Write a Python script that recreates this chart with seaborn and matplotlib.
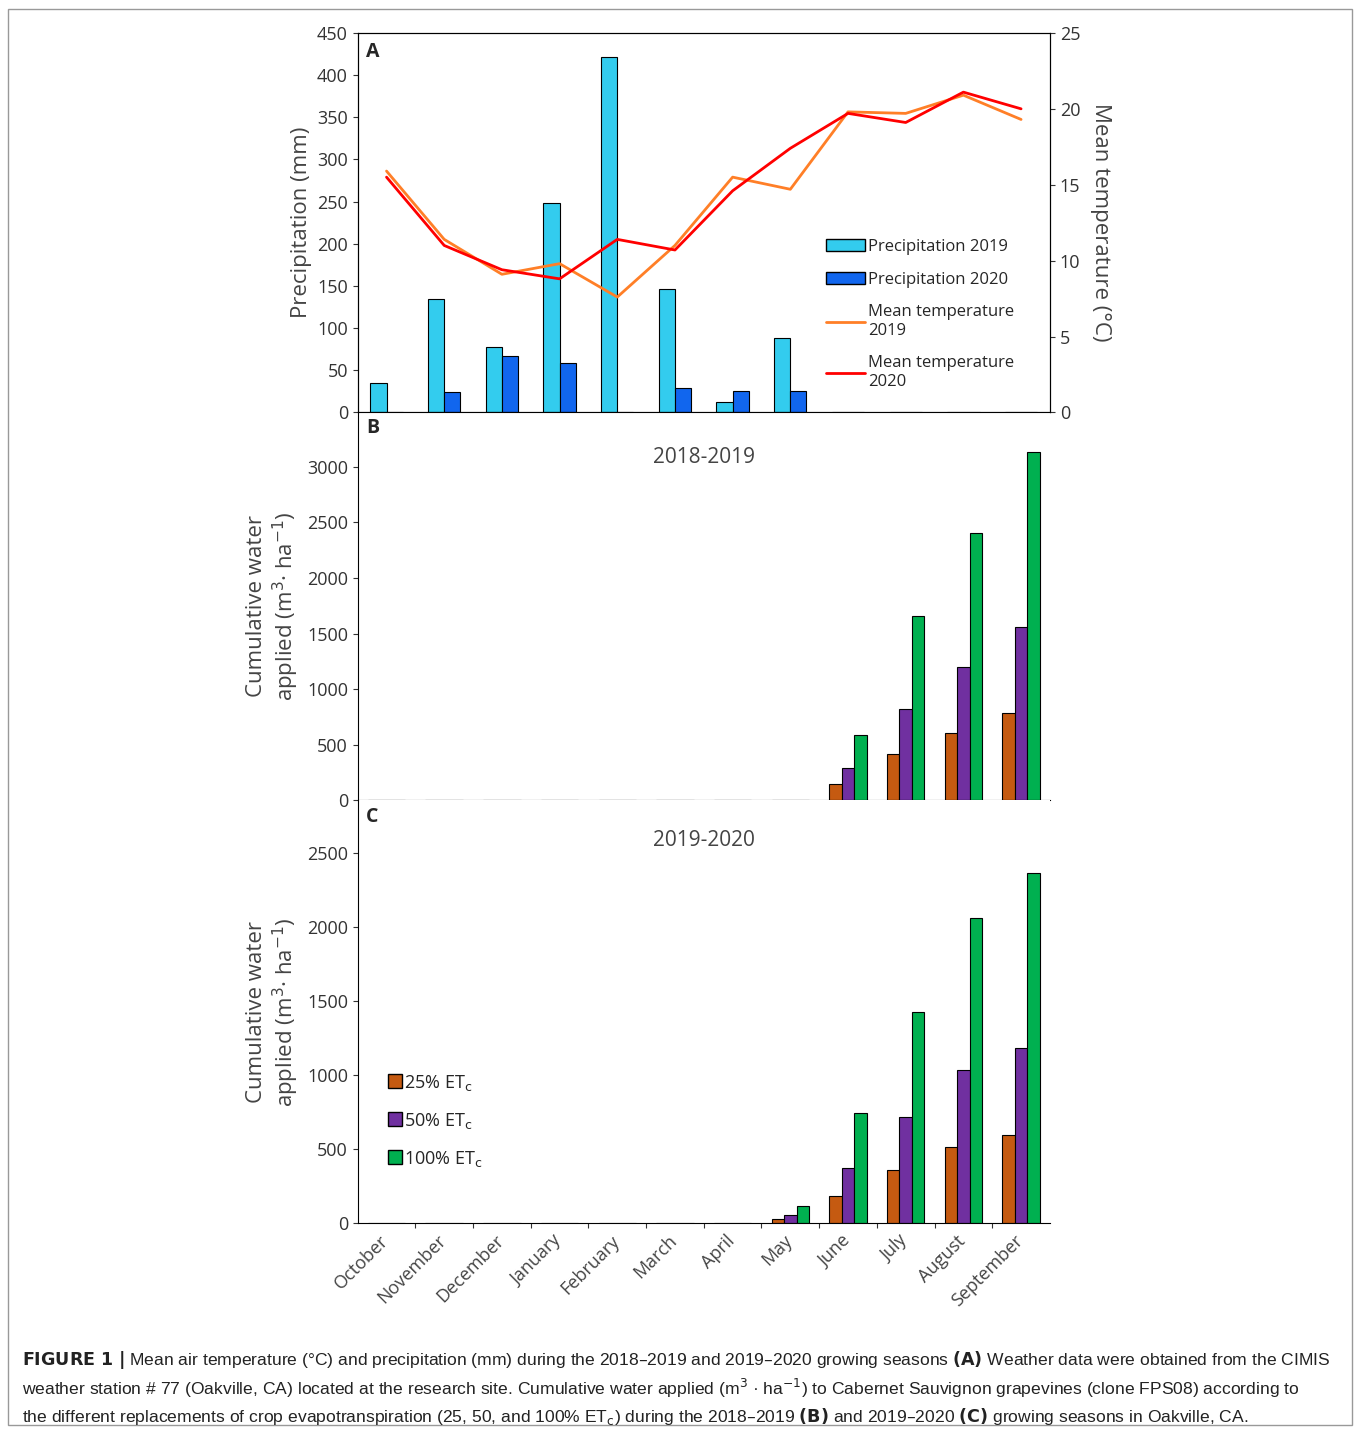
import numpy as np
import pandas as pd
import matplotlib
matplotlib.use("Agg")
import matplotlib.pyplot as plt
import seaborn as sns
from matplotlib.lines import Line2D
from matplotlib.patches import Rectangle

months = ["October", "November", "December", "January", "February", "March",
          "April", "May", "June", "July", "August", "September"]

precip_2019 = [35, 135, 77, 248, 422, 146, 12, 88, 0, 0, 0, 0]
precip_2020 = [0, 24, 67, 59, 1, 29, 25, 25, 0, 0, 1, 1]
temp_2019 = [15.9, 11.4, 9.1, 9.8, 7.6, 11.0, 15.5, 14.7, 19.8, 19.7, 20.9, 19.3]
temp_2020 = [15.5, 11.0, 9.4, 8.8, 11.4, 10.7, 14.6, 17.4, 19.7, 19.1, 21.1, 20.0]

treat = ["25% ET$_\\mathrm{c}$", "50% ET$_\\mathrm{c}$", "100% ET$_\\mathrm{c}$"]
water_1819_25 = [0, 0, 0, 0, 0, 0, 0, 0, 145, 420, 605, 790]
water_1819_50 = [0, 0, 0, 0, 0, 0, 0, 0, 295, 825, 1200, 1560]
water_1819_100 = [0, 0, 0, 0, 0, 0, 0, 0, 585, 1655, 2410, 3130]
water_1920_25 = [0, 0, 0, 0, 0, 0, 0, 25, 185, 355, 515, 595]
water_1920_50 = [0, 0, 0, 0, 0, 0, 0, 55, 370, 715, 1035, 1185]
water_1920_100 = [0, 0, 0, 0, 0, 0, 0, 115, 745, 1430, 2065, 2365]

sns.set_style("ticks")
plt.rcParams["font.family"] = ["Open Sans", "DejaVu Sans"]
plt.rcParams["axes.edgecolor"] = "black"

fig = plt.figure(figsize=(13.6, 14.32), dpi=100)
L, W = 0.263, 0.509
axA = fig.add_axes([L, 0.712, W, 0.265])
axB = fig.add_axes([L, 0.441, W, 0.271])
axC = fig.add_axes([L, 0.146, W, 0.295])

# ---- panel A
dfA = pd.DataFrame({"month": months * 2,
                    "value": precip_2019 + precip_2020,
                    "series": ["Precipitation 2019"] * 12 + ["Precipitation 2020"] * 12})
sns.barplot(data=dfA, x="month", y="value", hue="series", order=months,
            palette=["#33CCEE", "#1166EE"], width=0.56, edgecolor="black",
            linewidth=0.8, saturation=1, ax=axA, legend=False)
axA.set_ylim(0, 450)
axA.set_yticks(range(0, 451, 50))
axA.set_xlim(-0.5, 11.5)
axA.set_ylabel("Precipitation (mm)", fontsize=16, color="#444444")
axA.set_xlabel("")
axA.set_xticks(np.arange(0.5, 11.5, 1))
axA.set_xticklabels([])
axT = axA.twinx()
x = np.arange(12)
axT.plot(x, temp_2019, color="#FF7F27", lw=2)
axT.plot(x, temp_2020, color="#FF0000", lw=2)
axT.set_ylim(0, 25)
axT.set_yticks(range(0, 26, 5))
axT.set_ylabel("Mean temperature (°C)", fontsize=16, color="#444444", rotation=270, labelpad=22)
for a in (axA, axT):
    a.tick_params(labelsize=13, colors="#333333")
axA.text(0.012, 0.975, "A", transform=axA.transAxes, fontsize=14, fontweight="bold", va="top")
hA = [Rectangle((0, 0), 1, 1, fc="#33CCEE", ec="black"),
      Rectangle((0, 0), 1, 1, fc="#1166EE", ec="black"),
      Line2D([], [], color="#FF7F27", lw=2), Line2D([], [], color="#FF0000", lw=2)]
axA.legend(hA, ["Precipitation 2019", "Precipitation 2020", "Mean temperature\n2019",
                "Mean temperature\n2020"], loc="lower right", bbox_to_anchor=(0.97, 0.02),
           frameon=False, fontsize=12, handlelength=2.3, labelspacing=1.0, handletextpad=0.2)

# ---- panels B, C
def water_panel(ax, s25, s50, s100, ymax, ticks, title, letter, ty):
    df = pd.DataFrame({"month": months * 3, "value": s25 + s50 + s100,
                       "treat": [t for t in treat for _ in months]})
    sns.barplot(data=df, x="month", y="value", hue="treat", order=months,
                palette=["#C55A11", "#7030A0", "#00B050"], width=0.65, saturation=1,
                edgecolor="black", linewidth=0.8, ax=ax, legend=False)
    ax.set_xlim(-0.5, 11.5)
    ax.set_ylim(0, ymax)
    ax.set_yticks(ticks)
    ax.set_xticks(np.arange(0.5, 11.5, 1))
    ax.set_xticklabels([])
    ax.set_xlabel("")
    ax.set_ylabel("Cumulative water\napplied (m$^3$· ha$^{-1}$)", fontsize=16, color="#444444")
    ax.tick_params(labelsize=13, colors="#333333")
    ax.text(0.5, ty, title, transform=ax.transAxes, ha="center", va="center",
            fontsize=15, color="#444444")
    ax.text(0.012, 0.985, letter, transform=ax.transAxes, fontsize=14, fontweight="bold", va="top")
    sns.despine(ax=ax, top=True, right=True)

water_panel(axB, water_1819_25, water_1819_50, water_1819_100, 3490,
            range(0, 3001, 500), "2018-2019", "B", 0.885)
water_panel(axC, water_1920_25, water_1920_50, water_1920_100, 2858,
            range(0, 2501, 500), "2019-2020", "C", 0.905)
hC = [Line2D([], [], marker="s", ls="", mfc=c, mec="black", ms=10)
      for c in ["#C55A11", "#7030A0", "#00B050"]]
axC.legend(hC, treat, loc="lower left", bbox_to_anchor=(0.02, 0.09), frameon=False,
           fontsize=13, handletextpad=0.1, labelspacing=1.0, handlelength=0.8)
for i, m in enumerate(months):
    axC.text(i + 0.1, -60, m, rotation=45, ha="right", va="top", fontsize=13, color="#444444")

# frame + caption
fig.add_artist(Rectangle((0.006, 0.005), 0.988, 0.989, transform=fig.transFigure,
                         fill=False, ec="#999999", lw=1))
cap = ("$\\bf{FIGURE\\ 1\\ |}$ Mean air temperature (°C) and precipitation (mm) during the 2018–2019 and 2019–2020 growing seasons $\\bf{(A)}$ Weather data were obtained from the CIMIS\n"
       "weather station # 77 (Oakville, CA) located at the research site. Cumulative water applied (m$^3$ · ha$^{-1}$) to Cabernet Sauvignon grapevines (clone FPS08) according to\n"
       "the different replacements of crop evapotranspiration (25, 50, and 100% ET$_\\mathrm{c}$) during the 2018–2019 $\\bf{(B)}$ and 2019–2020 $\\bf{(C)}$ growing seasons in Oakville, CA.")
fig.text(0.016, 0.031, cap, fontsize=12.6, family=["Liberation Sans", "DejaVu Sans"],
         va="center", linespacing=1.35, color="#222222")
fig.savefig("out.png", dpi=100)
